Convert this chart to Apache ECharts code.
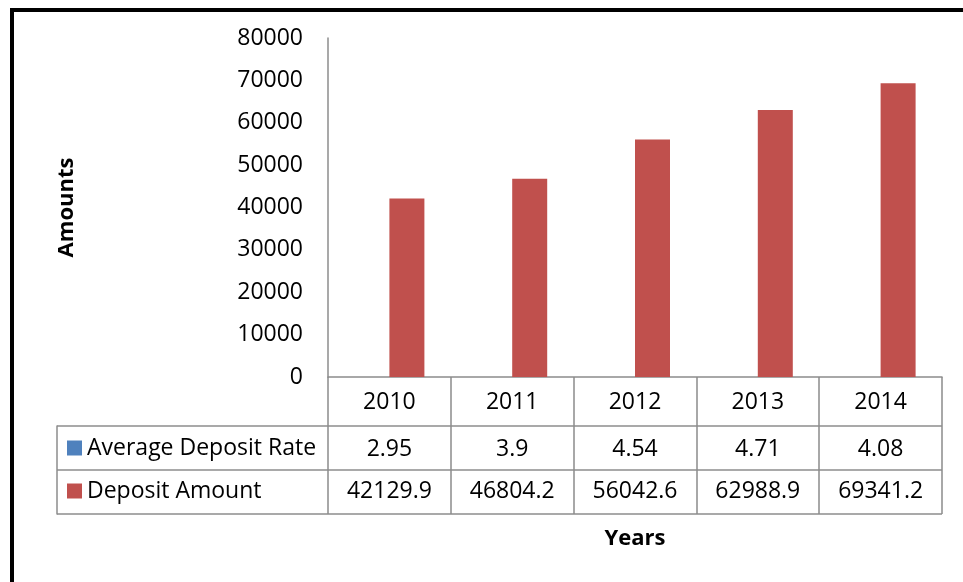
<!DOCTYPE html>
<html>
<head>
<meta charset="utf-8">
<script src="https://cdn.jsdelivr.net/npm/echarts@6/dist/echarts.min.js"></script>
<style>
  html, body { margin: 0; padding: 0; background: #fff; }
  #frame {
    position: absolute; left: 10px; top: 8px; width: 980px; height: 571px;
    border-left: 4px solid #000; border-top: 4px solid #000;
    border-bottom: 1px solid #d9d9d9;
  }
  #chart { position: absolute; left: 0; top: 0; width: 963px; height: 582px; }
</style>
</head>
<body>
<div id="frame"></div>
<div id="chart"></div>
<script>
// Yearly deposit figures
const years = ['2010', '2011', '2012', '2013', '2014'];
const depositRate = [2.95, 3.9, 4.54, 4.71, 4.08];
const depositAmount = [42129.9, 46804.2, 56042.6, 62988.9, 69341.2];
const rateName = 'Average Deposit Rate';
const amountName = 'Deposit Amount';

const FONT = '"Open Sans", sans-serif';
const LINE = '#8c8c8c';
const TXT = { fontFamily: FONT, fontSize: 23, color: '#000' };

const chart = echarts.init(document.getElementById('chart'), null, { renderer: 'canvas' });

chart.setOption({
  animation: false,
  textStyle: { fontFamily: FONT },
  color: ['#4F81BD', '#C0504D'],
  legend: {
    orient: 'vertical',
    left: 67, top: 436,
    padding: 0,
    itemWidth: 15, itemHeight: 15,
    itemGap: 19,
    icon: 'rect',
    selectedMode: false,
    textStyle: Object.assign({ lineHeight: 24 }, TXT),
    data: [rateName, amountName]
  },
  grid: [
    // plot area
    { left: 328, right: 21, top: 38, bottom: 205, containLabel: false },
    // row rules of the data table (legend column included)
    { left: 57, right: 21, top: 426, height: 88, containLabel: false }
  ],
  xAxis: [
    {
      gridIndex: 0, type: 'category', data: years, position: 'bottom',
      axisLine: { show: true, lineStyle: { color: LINE, width: 1.5 } },
      axisTick: { show: true, alignWithLabel: false, length: 137, lineStyle: { color: LINE, width: 1.5 } },
      axisLabel: Object.assign({ margin: 14 }, TXT)
    },
    {
      gridIndex: 0, type: 'category', data: depositRate.map(String), position: 'bottom', offset: 49,
      axisLine: { show: false }, axisTick: { show: false },
      axisLabel: Object.assign({ margin: 12 }, TXT)
    },
    {
      gridIndex: 0, type: 'category', data: depositAmount.map(String), position: 'bottom', offset: 93,
      axisLine: { show: false }, axisTick: { show: false },
      axisLabel: Object.assign({ margin: 10 }, TXT),
      name: 'Years', nameLocation: 'middle', nameGap: 58,
      nameTextStyle: { fontFamily: FONT, fontSize: 22, fontWeight: 'bold', color: '#000' }
    },
    { gridIndex: 1, type: 'value', show: false }
  ],
  yAxis: [
    {
      gridIndex: 0, type: 'value', min: 0, max: 80000, interval: 10000,
      axisLine: { show: true, lineStyle: { color: LINE, width: 1.5 } },
      axisTick: { show: false },
      splitLine: { show: false },
      axisLabel: Object.assign({ margin: 25, formatter: v => String(v) }, TXT),
      name: 'Amounts', nameLocation: 'middle', nameRotate: 90, nameGap: 250,
      nameTextStyle: { fontFamily: FONT, fontSize: 22, fontWeight: 'bold', color: '#000' }
    },
    {
      gridIndex: 1, type: 'value', min: 0, max: 2, interval: 1, inverse: true,
      axisLine: { show: true, lineStyle: { color: LINE, width: 1.5 } },
      axisTick: { show: false }, axisLabel: { show: false },
      splitLine: { show: true, lineStyle: { color: LINE, width: 1.5 } }
    }
  ],
  series: [
    {
      name: rateName, type: 'bar', xAxisIndex: 0, yAxisIndex: 0,
      data: depositRate, barWidth: 35, barGap: '0%'
    },
    {
      name: amountName, type: 'bar', xAxisIndex: 0, yAxisIndex: 0,
      data: depositAmount, barWidth: 35, barGap: '0%'
    }
  ]
});
</script>
</body>
</html>
